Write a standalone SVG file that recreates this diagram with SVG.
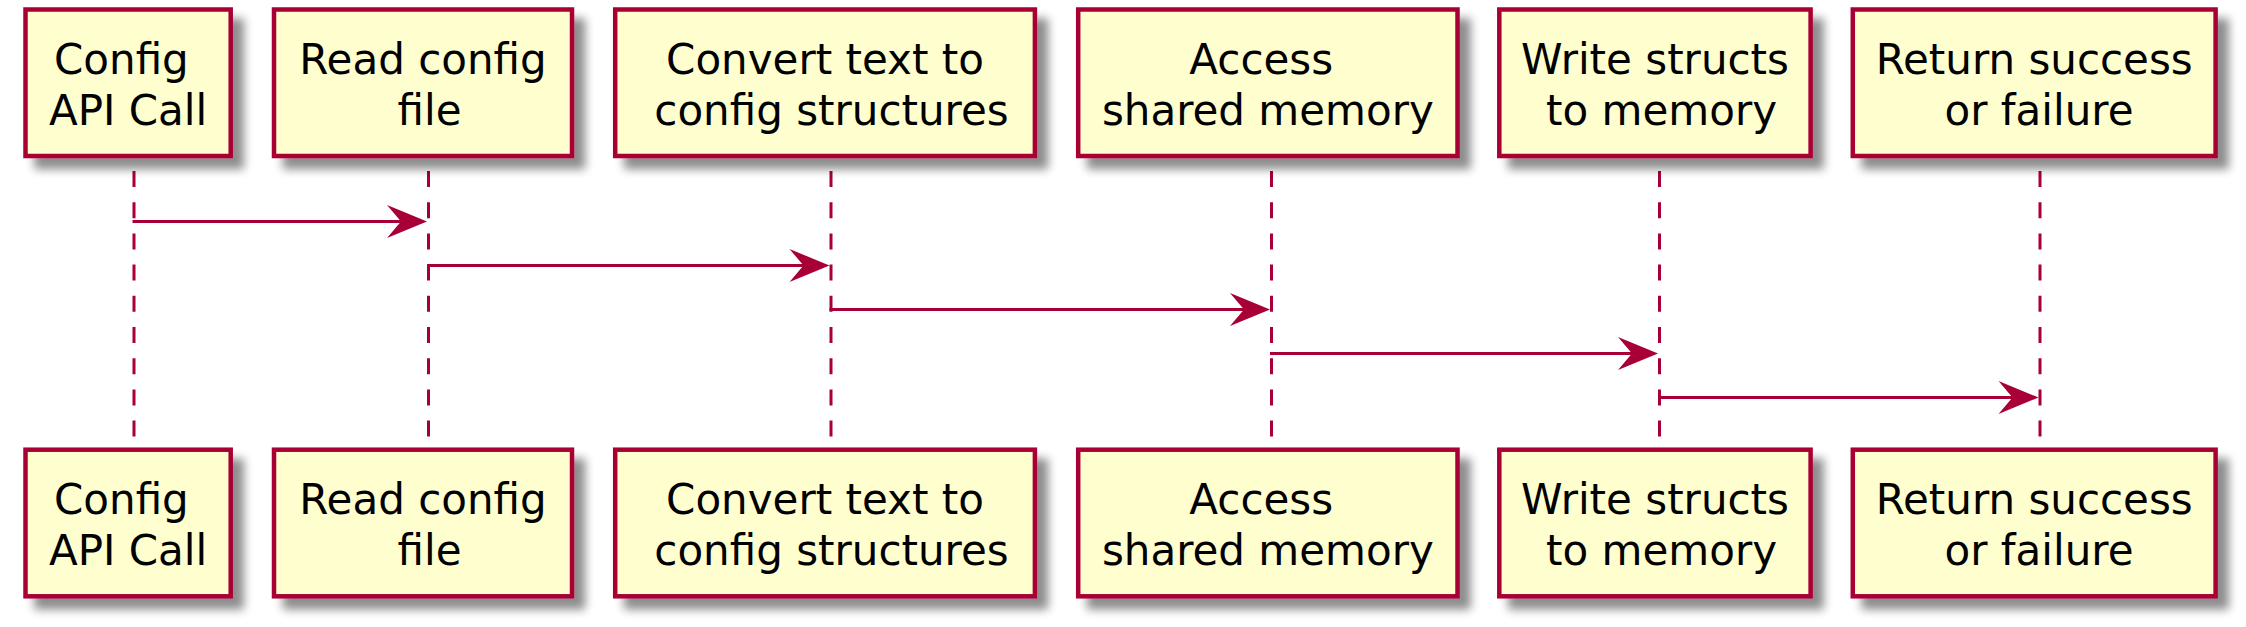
<svg xmlns="http://www.w3.org/2000/svg" width="2246" height="627" viewBox="0 0 2246 627">
<style>
.box{fill:#FEFECE;stroke:#A80036;stroke-width:4.5;filter:url(#sh)}
.lbl{font-family:"DejaVu Sans",sans-serif;font-size:42px;fill:#000;text-anchor:middle}
.life{stroke:#A80036;stroke-width:3;stroke-dasharray:16 15.2;fill:none}
.msg{stroke:#A80036;stroke-width:3.2;fill:none}
.head{fill:#A80036;stroke:none}
</style>
<defs>
<filter id="sh" x="-10%" y="-10%" width="130%" height="130%">
<feGaussianBlur in="SourceAlpha" stdDeviation="5"/>
<feOffset dx="11" dy="11" result="b"/>
<feComponentTransfer><feFuncA type="linear" slope="0.45"/></feComponentTransfer>
<feMerge><feMergeNode/><feMergeNode in="SourceGraphic"/></feMerge>
</filter>
<polygon id="ah" points="-40,-16.5 0,0 -40,16.5 -26,0"/>
</defs>
<rect width="2246" height="627" fill="#FFFFFF"/>
<g id="lifelines">
<line class="life" x1="134" y1="171" x2="134" y2="437"/>
<line class="life" x1="428.5" y1="171" x2="428.5" y2="437"/>
<line class="life" x1="831" y1="171" x2="831" y2="437"/>
<line class="life" x1="1271.5" y1="171" x2="1271.5" y2="437"/>
<line class="life" x1="1659.5" y1="171" x2="1659.5" y2="437"/>
<line class="life" x1="2040" y1="171" x2="2040" y2="437"/>
</g>
<g id="p1-top"><rect class="box" x="25.5" y="9.5" width="205.2" height="146.5"/><text class="lbl" x="121.4" y="74">Config</text><text class="lbl" x="128.1" y="125">API Call</text></g>
<g id="p2-top"><rect class="box" x="274" y="9.5" width="298" height="146.5"/><text class="lbl" x="423" y="74">Read config</text><text class="lbl" x="429.5" y="125">file</text></g>
<g id="p3-top"><rect class="box" x="615.2" y="9.5" width="419.7" height="146.5"/><text class="lbl" x="825" y="74">Convert text to</text><text class="lbl" x="831.5" y="125">config structures</text></g>
<g id="p4-top"><rect class="box" x="1078.2" y="9.5" width="379.3" height="146.5"/><text class="lbl" x="1261.2" y="74">Access</text><text class="lbl" x="1267.9" y="125">shared memory</text></g>
<g id="p5-top"><rect class="box" x="1499.3" y="9.5" width="311.3" height="146.5"/><text class="lbl" x="1655" y="74">Write structs</text><text class="lbl" x="1661.5" y="125">to memory</text></g>
<g id="p6-top"><rect class="box" x="1852.8" y="9.5" width="362.8" height="146.5"/><text class="lbl" x="2034.2" y="74">Return success</text><text class="lbl" x="2039" y="125">or failure</text></g>
<g id="p1-bottom"><rect class="box" x="25.5" y="449.7" width="205.2" height="146.6"/><text class="lbl" x="121.4" y="514.2">Config</text><text class="lbl" x="128.1" y="565.2">API Call</text></g>
<g id="p2-bottom"><rect class="box" x="274" y="449.7" width="298" height="146.6"/><text class="lbl" x="423" y="514.2">Read config</text><text class="lbl" x="429.5" y="565.2">file</text></g>
<g id="p3-bottom"><rect class="box" x="615.2" y="449.7" width="419.7" height="146.6"/><text class="lbl" x="825" y="514.2">Convert text to</text><text class="lbl" x="831.5" y="565.2">config structures</text></g>
<g id="p4-bottom"><rect class="box" x="1078.2" y="449.7" width="379.3" height="146.6"/><text class="lbl" x="1261.2" y="514.2">Access</text><text class="lbl" x="1267.9" y="565.2">shared memory</text></g>
<g id="p5-bottom"><rect class="box" x="1499.3" y="449.7" width="311.3" height="146.6"/><text class="lbl" x="1655" y="514.2">Write structs</text><text class="lbl" x="1661.5" y="565.2">to memory</text></g>
<g id="p6-bottom"><rect class="box" x="1852.8" y="449.7" width="362.8" height="146.6"/><text class="lbl" x="2034.2" y="514.2">Return success</text><text class="lbl" x="2039" y="565.2">or failure</text></g>
<g id="connectors">
<line class="msg" x1="132.5" y1="221.5" x2="410" y2="221.5"/><use href="#ah" class="head" transform="translate(427,221.5)"/>
<line class="msg" x1="427" y1="265.5" x2="812" y2="265.5"/><use href="#ah" class="head" transform="translate(829.5,265.5)"/>
<line class="msg" x1="829.5" y1="309.5" x2="1252" y2="309.5"/><use href="#ah" class="head" transform="translate(1270,309.5)"/>
<line class="msg" x1="1270" y1="353.5" x2="1640" y2="353.5"/><use href="#ah" class="head" transform="translate(1658,353.5)"/>
<line class="msg" x1="1658" y1="397.5" x2="2020" y2="397.5"/><use href="#ah" class="head" transform="translate(2038.5,397.5)"/>
</g>
</svg>
